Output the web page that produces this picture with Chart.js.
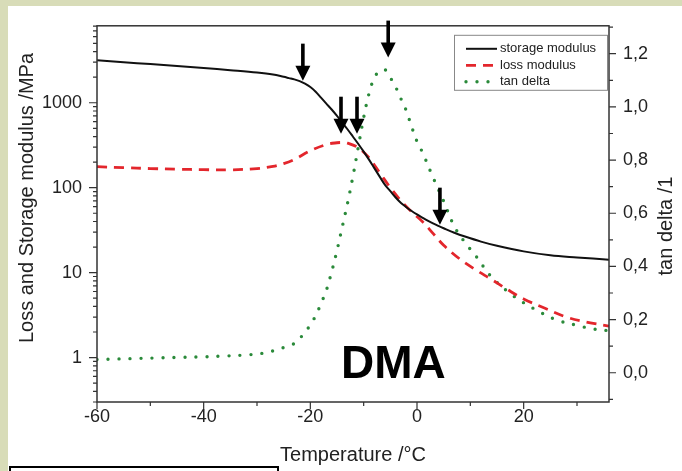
<!DOCTYPE html>
<html>
<head>
<meta charset="utf-8">
<script src="https://cdn.jsdelivr.net/npm/chart.js@4/dist/chart.umd.min.js"></script>
<style>
  html, body { margin: 0; padding: 0; }
  body { width: 682px; height: 471px; background: #d8dcb8; position: relative; overflow: hidden; }
  #panel { position: absolute; left: 8px; top: 6px; right: 0; bottom: 0; background: #fff; }
  #note { position: absolute; left: 9px; top: 466px; width: 266px; height: 20px; border: 2px solid #000; background: #fff; }
  #wrap { position: absolute; left: 0; top: 0; width: 682px; height: 471px; }
</style>
</head>
<body>
<div id="panel"></div>
<div id="note"></div>
<div id="wrap"><canvas id="dma" width="682" height="471"></canvas></div>
<script>
// storage modulus (MPa, left log axis)
const storageT = [-60,-55,-50,-45,-40,-35,-30,-27,-25,-24,-23,-22,-21,-20,-19,-18,-17,-16,-15,-14,-13,-12,-11,-10,-9,-8,-7,-6,-5,-4,-3,-2,-1,0,1,2,3,4,5,7,9,12,15,20,25,30,36];
const storageMod = [3170,3000,2850,2700,2570,2420,2270,2150,2018,1950,1884,1799,1679,1531,1349,1148,977,832,700,582,484,398,327,266,214,170,135,108,91.2,76.7,66.1,58.9,53.1,48.4,44.5,41,38,35.5,33.3,29.5,26.6,23.2,20.7,17.8,16,15.1,14.2];

// loss modulus (MPa, left log axis)
const lossT = [-60,-55,-50,-45,-40,-35,-30,-27,-25,-23,-20,-17,-15,-14,-13,-11,-9,-7,-5,-3,-1,1,3,5,8,11,14,17,20,24,28,32,36];
const lossMod = [177,172,168,165,163,162,168,178,192,215,272,322,338,340,334,295,225,150,100,70,52,40,29,21,14.5,10.8,8.3,6.3,4.9,3.8,3.0,2.6,2.35];

// tan delta (right axis)
const tanT = [-60,-56,-52,-48,-44,-40,-36,-32,-29,-27,-25,-23,-21.5,-20,-19,-18,-17,-16,-15,-14,-13,-12,-11,-10,-9,-8,-7,-6,-5,-4,-3,-2,-1,0,1,3,5,7,9,11,14,18,22,26,30,33,36];
const tanDelta = [0.05,0.052,0.054,0.056,0.058,0.06,0.063,0.067,0.073,0.082,0.095,0.11,0.14,0.18,0.215,0.26,0.31,0.38,0.46,0.55,0.64,0.74,0.85,0.96,1.05,1.11,1.135,1.14,1.11,1.075,1.03,0.985,0.925,0.87,0.83,0.735,0.645,0.55,0.49,0.44,0.36,0.29,0.24,0.2,0.178,0.165,0.158];

// tick labels
const xTicks = [-60,-40,-20,0,20];
const leftTicks = [1,10,100,1000];
const rightTicks = [0,0.2,0.4,0.6,0.8,1.0,1.2];

// arrows: temperature and modulus value at the tip
const arrowT = [-21.4,-14.25,-11.25,-5.4,4.3];
const arrowAt = [1820,432,432,3400,36.7];

const FONT = '"Liberation Sans", Arial, sans-serif';
const INK = '#222';

function pts(xs, ys) { return xs.map((x, i) => ({ x: x, y: ys[i] })); }

const framePlugin = {
  id: 'frame',
  afterDraw(chart) {
    const c = chart.ctx, a = chart.chartArea;
    const sx = chart.scales.x, sy = chart.scales.y, sr = chart.scales.y1;
    c.save();
    c.strokeStyle = '#333';
    c.lineWidth = 1.5;
    c.strokeRect(a.left, a.top, a.right - a.left, a.bottom - a.top);
    c.lineWidth = 1.2;
    c.beginPath();
    // x ticks
    for (let t = -60; t <= 36; t += 10) {
      const px = sx.getPixelForValue(t);
      const len = xTicks.includes(t) ? 7 : 4;
      c.moveTo(px, a.bottom); c.lineTo(px, a.bottom + len);
    }
    // left log ticks
    for (let k = -1; k <= 3; k++) {
      for (let d = 1; d <= 9; d++) {
        const v = d * Math.pow(10, k);
        if (v < sy.min || v > sy.max) continue;
        const py = sy.getPixelForValue(v);
        const len = d === 1 ? 8 : 4;
        c.moveTo(a.left, py); c.lineTo(a.left - len, py);
      }
    }
    // right ticks
    for (let i = -1; i <= 13; i++) {
      const v = i / 10;
      if (v < sr.min || v > sr.max) continue;
      const py = sr.getPixelForValue(v);
      const len = i % 2 === 0 ? 7 : 4;
      c.moveTo(a.right, py); c.lineTo(a.right + len, py);
    }
    c.stroke();

    // axis titles
    c.fillStyle = INK;
    c.font = '20px ' + FONT;
    c.textAlign = 'center';
    c.textBaseline = 'middle';
    c.fillText('Temperature /°C', (a.left + a.right) / 2, 455);
    c.save();
    c.translate(27, 198);
    c.rotate(-Math.PI / 2);
    c.fillText('Loss and Storage modulus /MPa', 0, 0);
    c.restore();
    c.save();
    c.translate(666, 226);
    c.rotate(-Math.PI / 2);
    c.fillText('tan delta /1', 0, 0);
    c.restore();

    // DMA label
    c.font = 'bold 46px ' + FONT;
    c.fillStyle = '#000';
    c.textAlign = 'left';
    c.textBaseline = 'alphabetic';
    c.fillText('DMA', 341, 378);

    // arrows
    c.fillStyle = '#000';
    arrowT.forEach((t, i) => {
      const px = sx.getPixelForValue(t);
      const py = sy.getPixelForValue(arrowAt[i]);
      c.fillRect(px - 1.8, py - 37, 3.6, 24);
      c.beginPath();
      c.moveTo(px - 7.5, py - 15);
      c.lineTo(px + 7.5, py - 15);
      c.lineTo(px, py);
      c.closePath();
      c.fill();
    });

    // legend
    const lx = a.right - 155, ly = a.top + 9;
    c.fillStyle = '#fff';
    c.fillRect(lx, ly, 153, 55);
    c.strokeStyle = '#888';
    c.lineWidth = 1;
    c.strokeRect(lx + 0.5, ly + 0.5, 153, 55);
    c.font = '13px ' + FONT;
    c.textBaseline = 'middle';
    chart.data.datasets.forEach((ds, i) => {
      const ry = ly + 14 + i * 16.5;
      c.save();
      c.strokeStyle = ds.borderColor;
      c.lineWidth = ds.borderWidth;
      c.lineCap = ds.borderCapStyle || 'butt';
      c.setLineDash(ds.borderDash || []);
      c.beginPath();
      c.moveTo(lx + 12, ry); c.lineTo(lx + 43, ry);
      c.stroke();
      c.restore();
      c.fillStyle = INK;
      c.fillText(ds.label, lx + 46, ry);
    });
    c.restore();
  }
};

new Chart(document.getElementById('dma').getContext('2d'), {
  type: 'line',
  data: {
    datasets: [
      { label: 'storage modulus', data: pts(storageT, storageMod), yAxisID: 'y', borderColor: '#111', borderWidth: 2, pointRadius: 0, tension: 0.35 },
      { label: 'loss modulus', data: pts(lossT, lossMod), yAxisID: 'y', borderColor: '#e3262c', borderWidth: 2.8, borderDash: [10, 7], pointRadius: 0, tension: 0.35 },
      { label: 'tan delta', data: pts(tanT, tanDelta), yAxisID: 'y1', borderColor: '#2a8a3a', borderWidth: 3.4, borderDash: [0, 11], borderCapStyle: 'round', pointRadius: 0, tension: 0.35 }
    ]
  },
  options: {
    responsive: false,
    animation: false,
    layout: { padding: { top: 25, left: 0, right: 0, bottom: 0 } },
    plugins: { legend: { display: false }, tooltip: { enabled: false } },
    scales: {
      x: {
        type: 'linear', min: -60, max: 36,
        afterBuildTicks: s => { s.ticks = xTicks.map(v => ({ value: v })); },
        afterFit: s => { s.height = 69; },
        grid: { display: false, drawTicks: false },
        border: { display: false },
        ticks: { padding: 4, color: INK, font: { family: FONT, size: 18 }, autoSkip: false, maxRotation: 0 }
      },
      y: {
        type: 'logarithmic', position: 'left', min: 0.3, max: 8050,
        afterBuildTicks: s => { s.ticks = leftTicks.map(v => ({ value: v })); },
        afterFit: s => { s.width = 97; },
        grid: { display: false, drawTicks: false },
        border: { display: false },
        ticks: { padding: 15, color: INK, font: { family: FONT, size: 18 }, autoSkip: false, callback: v => String(v) }
      },
      y1: {
        type: 'linear', position: 'right', min: -0.11, max: 1.305,
        afterBuildTicks: s => { s.ticks = rightTicks.map(v => ({ value: v })); },
        afterFit: s => { s.width = 73; },
        grid: { display: false, drawTicks: false },
        border: { display: false },
        ticks: { padding: 14, color: INK, font: { family: FONT, size: 18 }, autoSkip: false, callback: v => v.toFixed(1).replace('.', ',') }
      }
    }
  },
  plugins: [framePlugin]
});
</script>
</body>
</html>
